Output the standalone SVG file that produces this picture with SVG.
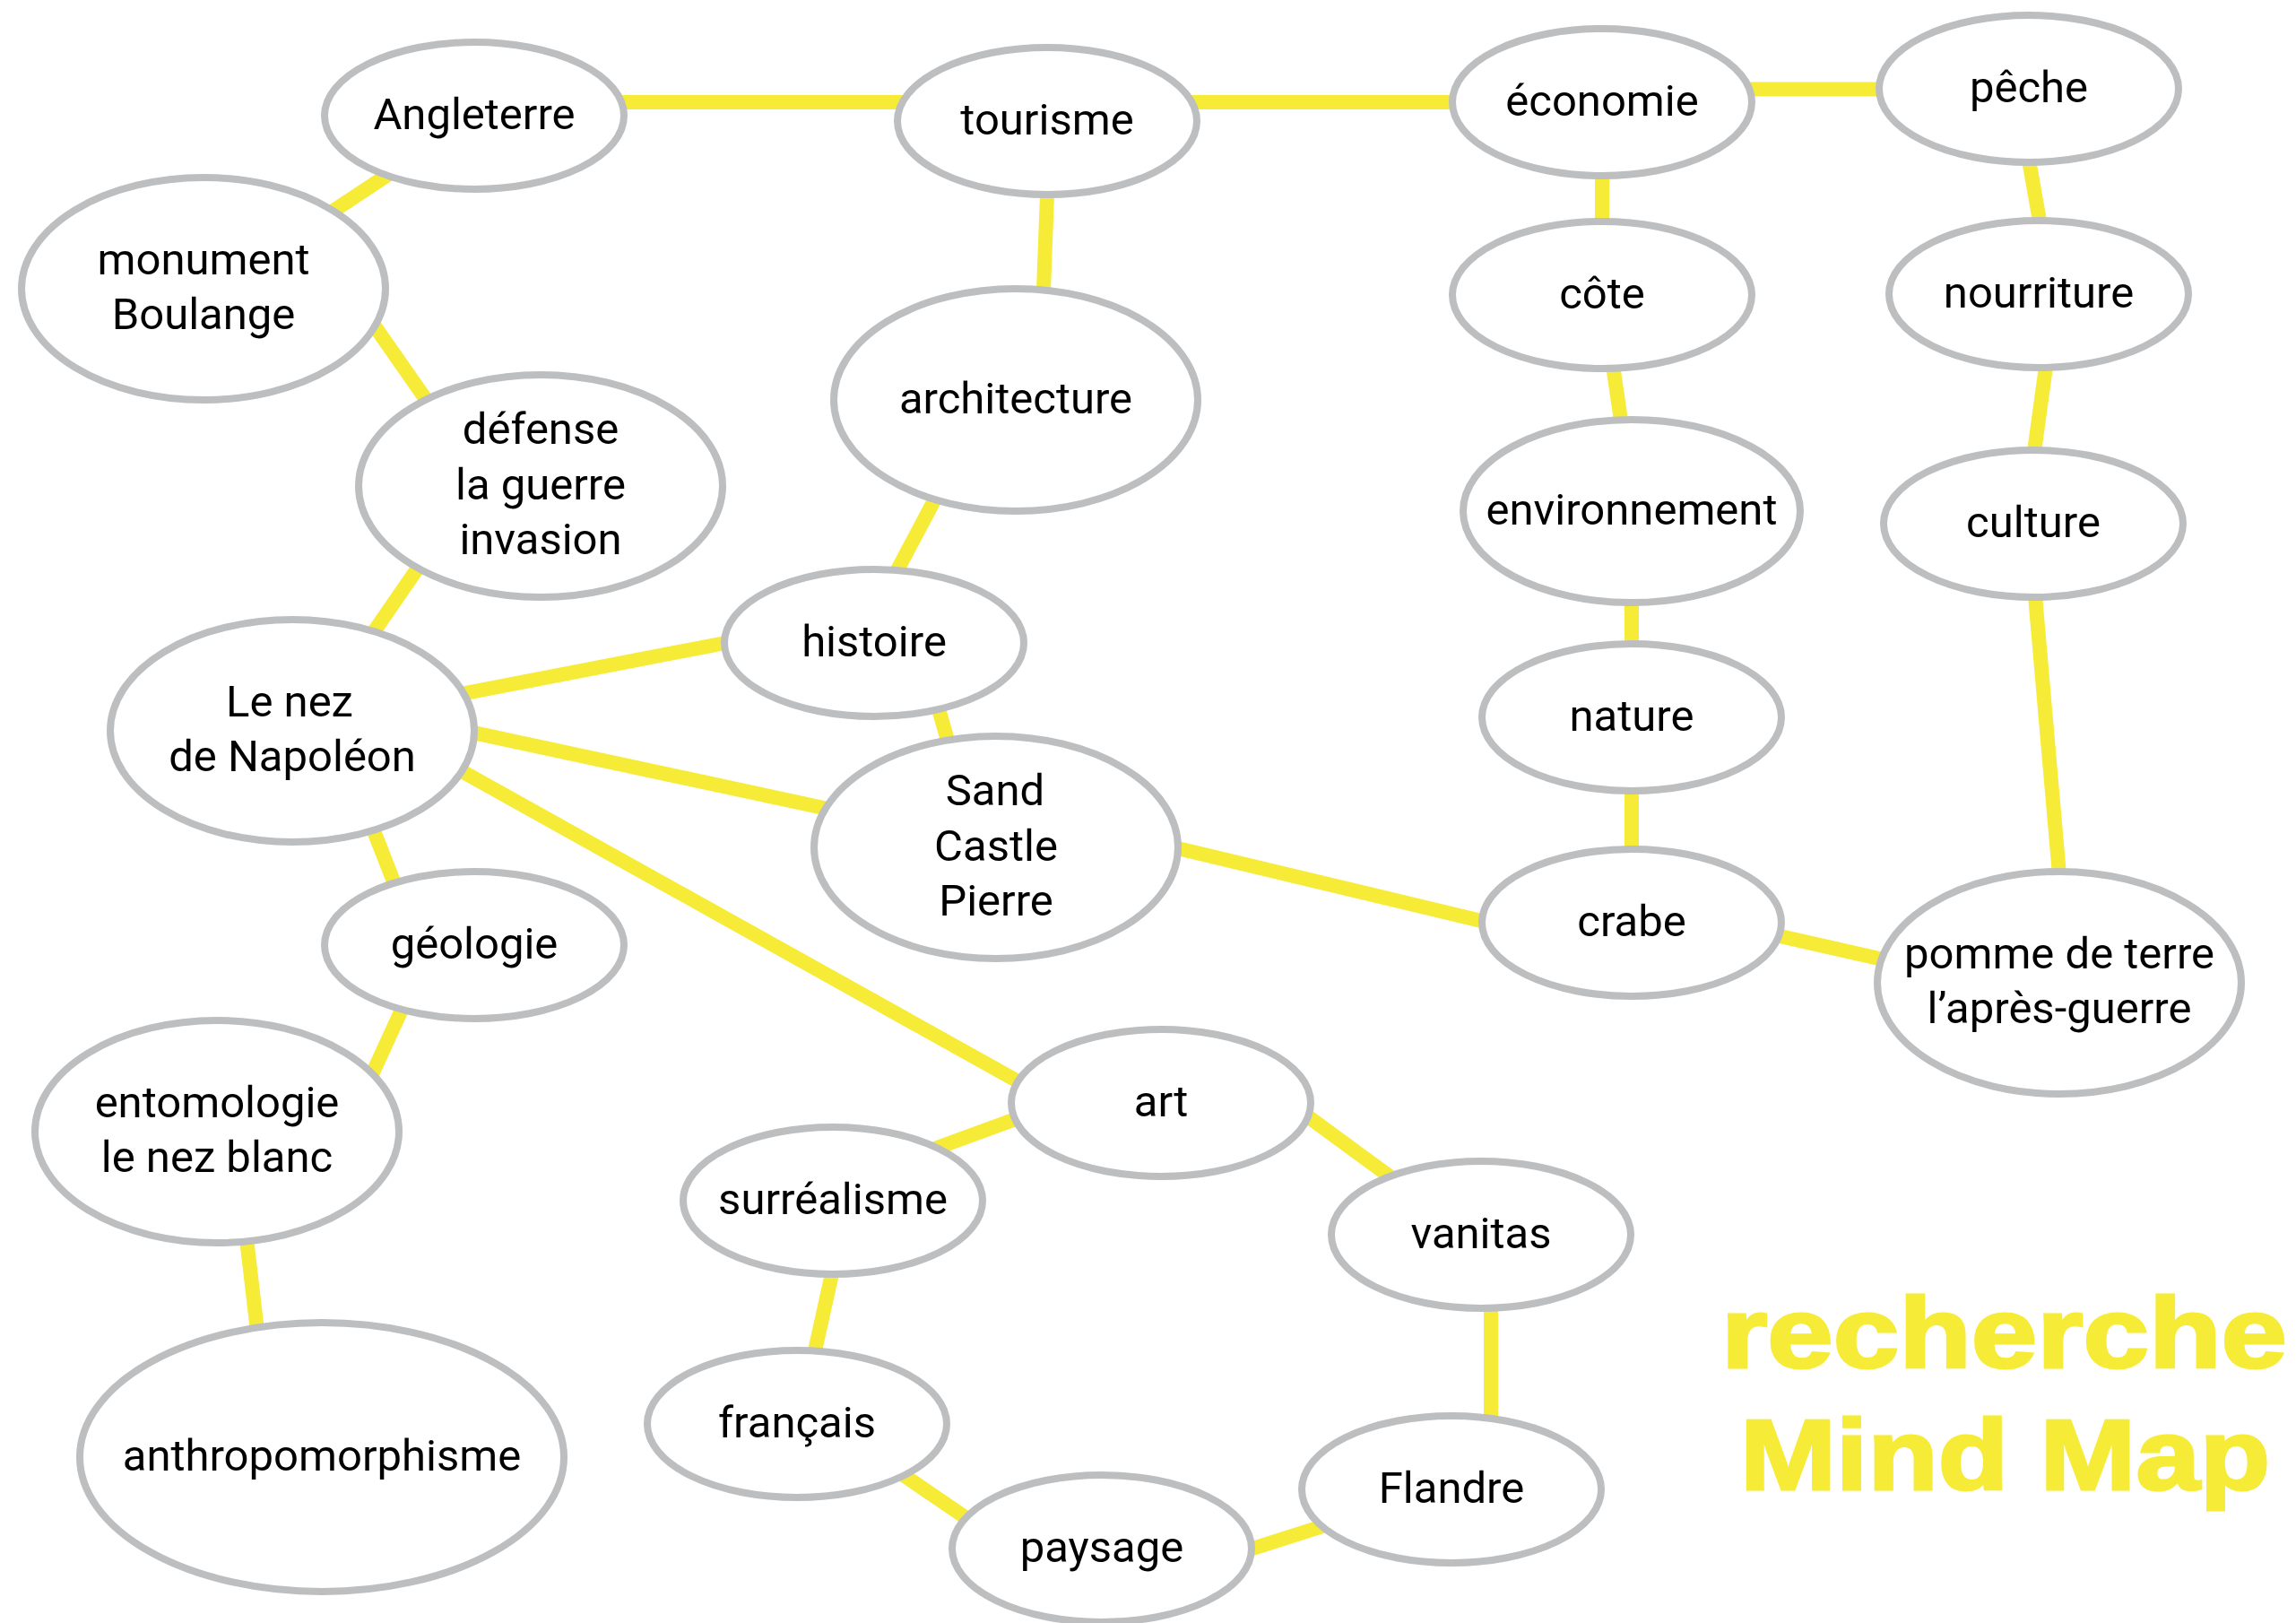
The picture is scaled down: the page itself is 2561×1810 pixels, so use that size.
<svg xmlns="http://www.w3.org/2000/svg" width="2561" height="1810" viewBox="0 0 2561 1810">
<style>
.c line{stroke:#F6EB36;stroke-width:16;stroke-linecap:butt}
.n ellipse{fill:#fff;stroke:#BCBEC0;stroke-width:8}
.n text{font-family:Roboto,"Liberation Sans",sans-serif;font-size:49px;fill:#000;text-anchor:middle}
.t{font-family:"Liberation Sans",Arial,sans-serif;font-weight:bold;font-size:112px;fill:#F6EB36;stroke:#F6EB36;stroke-width:3;stroke-linejoin:miter}
</style>
<rect width="2561" height="1810" fill="#fff"/>
<g id="connectors" class="c">
<line x1="560" y1="114" x2="1160" y2="114"/>
<line x1="1170" y1="114" x2="1780" y2="114"/>
<line x1="1900" y1="99.5" x2="2150" y2="99.5"/>
<line x1="1787" y1="150" x2="1787" y2="300"/>
<line x1="1795" y1="380" x2="1814" y2="510"/>
<line x1="1820" y1="640" x2="1820" y2="760"/>
<line x1="1820" y1="850" x2="1820" y2="990"/>
<line x1="2258" y1="150" x2="2281" y2="280"/>
<line x1="2286" y1="380" x2="2264" y2="540"/>
<line x1="2267" y1="630" x2="2300" y2="1010"/>
<line x1="1950" y1="1036" x2="2140" y2="1079"/>
<line x1="1280" y1="938" x2="1690" y2="1036"/>
<line x1="1041" y1="770" x2="1064" y2="850"/>
<line x1="1057" y1="530" x2="988" y2="660"/>
<line x1="1169" y1="190" x2="1163" y2="350"/>
<line x1="440" y1="190" x2="366" y2="239"/>
<line x1="407" y1="348" x2="488" y2="464"/>
<line x1="476" y1="619" x2="407" y2="719"/>
<line x1="480" y1="780.6" x2="840" y2="711"/>
<line x1="500" y1="811" x2="950" y2="907.7"/>
<line x1="490" y1="846" x2="1200" y2="1242"/>
<line x1="406.5" y1="900" x2="449.6" y2="1010"/>
<line x1="460" y1="1100" x2="405" y2="1220"/>
<line x1="272.5" y1="1360" x2="290" y2="1510"/>
<line x1="1160" y1="1238" x2="1010" y2="1293"/>
<line x1="1430" y1="1224" x2="1580" y2="1334"/>
<line x1="1663" y1="1430" x2="1663" y2="1610"/>
<line x1="932.5" y1="1400" x2="903.8" y2="1530"/>
<line x1="990" y1="1633" x2="1100" y2="1708"/>
<line x1="1370" y1="1735.6" x2="1510" y2="1691"/>
</g>
<g id="angleterre" class="n"><ellipse cx="529" cy="129" rx="167" ry="82"/><text x="529" y="144">Angleterre</text></g>
<g id="monument" class="n"><ellipse cx="227" cy="322" rx="203" ry="124"/><text x="227" y="306">monument</text><text x="227" y="367">Boulange</text></g>
<g id="defense" class="n"><ellipse cx="603" cy="542" rx="203" ry="124"/><text x="603" y="495">défense</text><text x="603" y="557">la guerre</text><text x="603" y="618">invasion</text></g>
<g id="tourisme" class="n"><ellipse cx="1168" cy="135" rx="167" ry="82"/><text x="1168" y="150">tourisme</text></g>
<g id="economie" class="n"><ellipse cx="1787" cy="114" rx="167" ry="82"/><text x="1787" y="129">économie</text></g>
<g id="peche" class="n"><ellipse cx="2263" cy="99" rx="167" ry="82"/><text x="2263" y="114">pêche</text></g>
<g id="cote" class="n"><ellipse cx="1787" cy="329" rx="167" ry="82"/><text x="1787" y="344">côte</text></g>
<g id="nourriture" class="n"><ellipse cx="2274" cy="328" rx="167" ry="82"/><text x="2274" y="343">nourriture</text></g>
<g id="environnement" class="n"><ellipse cx="1820" cy="570" rx="188" ry="102"/><text x="1820" y="585">environnement</text></g>
<g id="culture" class="n"><ellipse cx="2268" cy="584" rx="167" ry="82"/><text x="2268" y="599">culture</text></g>
<g id="architecture" class="n"><ellipse cx="1133" cy="446" rx="203" ry="124"/><text x="1133" y="461">architecture</text></g>
<g id="histoire" class="n"><ellipse cx="975" cy="717" rx="167" ry="82"/><text x="975" y="732">histoire</text></g>
<g id="sandcastle" class="n"><ellipse cx="1111" cy="945" rx="203" ry="124"/><text x="1110" y="898">Sand</text><text x="1111" y="960">Castle</text><text x="1111" y="1021">Pierre</text></g>
<g id="lenez" class="n"><ellipse cx="326" cy="815" rx="203" ry="124"/><text x="323" y="799">Le nez</text><text x="326" y="860">de Napoléon</text></g>
<g id="geologie" class="n"><ellipse cx="529" cy="1054" rx="167" ry="82"/><text x="529" y="1069">géologie</text></g>
<g id="entomologie" class="n"><ellipse cx="242" cy="1262" rx="203" ry="124"/><text x="242" y="1246">entomologie</text><text x="242" y="1307">le nez blanc</text></g>
<g id="anthropomorphisme" class="n"><ellipse cx="359" cy="1625" rx="270" ry="150"/><text x="359" y="1640">anthropomorphisme</text></g>
<g id="art" class="n"><ellipse cx="1295" cy="1230" rx="167" ry="82"/><text x="1295" y="1245">art</text></g>
<g id="surrealisme" class="n"><ellipse cx="929" cy="1339" rx="167" ry="82"/><text x="929" y="1354">surréalisme</text></g>
<g id="vanitas" class="n"><ellipse cx="1652" cy="1377" rx="167" ry="82"/><text x="1652" y="1392">vanitas</text></g>
<g id="francais" class="n"><ellipse cx="889" cy="1588" rx="167" ry="82"/><text x="889" y="1603">français</text></g>
<g id="paysage" class="n"><ellipse cx="1229" cy="1727" rx="167" ry="82"/><text x="1229" y="1742">paysage</text></g>
<g id="flandre" class="n"><ellipse cx="1619" cy="1661" rx="167" ry="82"/><text x="1619" y="1676">Flandre</text></g>
<g id="nature" class="n"><ellipse cx="1820" cy="800" rx="167" ry="82"/><text x="1820" y="815">nature</text></g>
<g id="crabe" class="n"><ellipse cx="1820" cy="1029" rx="167" ry="82"/><text x="1820" y="1044">crabe</text></g>
<g id="pomme" class="n"><ellipse cx="2297" cy="1096" rx="203" ry="124"/><text x="2297" y="1080">pomme de terre</text><text x="2297" y="1141">l’après-guerre</text></g>
<g id="title">
<text class="t" x="1920" y="1525" textLength="631" lengthAdjust="spacingAndGlyphs">recherche</text>
<text class="t" x="1941" y="1661" textLength="591" lengthAdjust="spacingAndGlyphs">Mind Map</text>
</g>
</svg>
